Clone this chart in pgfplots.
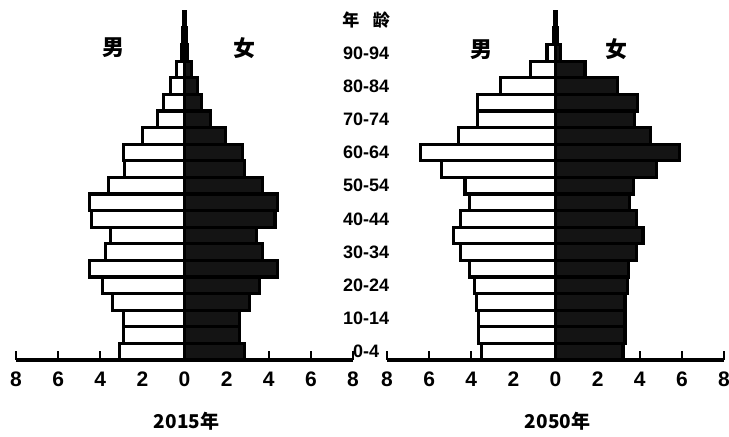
\documentclass[border=0pt]{standalone}
\usepackage{fontspec}
\setmainfont{Liberation Sans}
\newfontfamily\cjk{Noto Sans CJK SC}
\usepackage{pgfplots}
\pgfplotsset{compat=1.18}
\usepackage{pgfplotstable}

% age group index (0 = 0-4 ... 20 = 100+), male %, female %
\pgfplotstableread{
row male female
0  3.10 2.85
1  2.90 2.60
2  2.90 2.60
3  3.40 3.10
4  3.90 3.55
5  4.50 4.40
6  3.75 3.70
7  3.50 3.40
8  4.40 4.30
9  4.50 4.40
10 3.60 3.70
11 2.85 2.85
12 2.90 2.75
13 2.00 1.95
14 1.30 1.25
15 1.00 0.80
16 0.65 0.60
17 0.38 0.35
18 0.16 0.14
19 0.09 0.08
20 0.04 0.03
}\yrfifteen

\pgfplotstableread{
row male female
0  3.50 3.20
1  3.65 3.30
2  3.65 3.30
3  3.75 3.30
4  3.85 3.40
5  4.10 3.45
6  4.50 3.85
7  4.85 4.15
8  4.50 3.85
9  4.10 3.50
10 4.30 3.70
11 5.40 4.80
12 6.40 5.90
13 4.60 4.50
14 3.70 3.75
15 3.70 3.90
16 2.60 2.95
17 1.20 1.40
18 0.40 0.25
19 0.10 0.09
20 0.05 0.04
}\yrfifty

\pgfplotsset{
  pyramid/.style={
    scale only axis, width=168.5pt, height=176pt,
    xmin=-8, xmax=8, ymin=-0.5, ymax=20.7,
    axis lines*=left,
    x axis line style={line width=1.6pt, black},
    y axis line style={draw=none},
    ytick=\empty,
    xtick={-8,-6,...,8},
    xticklabels={8,6,4,2,0,2,4,6,8},
    tick align=inside, major tick length=4.5pt,
    major tick style={line width=1.2pt, black},
    xticklabel style={font=\fontsize{10.5}{12}\selectfont\bfseries, yshift=-2.5pt},
    clip=false,
  },
  male/.style={xbar, bar width=8.3pt, bar shift=0pt, draw=black, fill=white, line width=1.6pt},
  female/.style={xbar, bar width=8.3pt, bar shift=0pt, draw=black, fill=black!92, line width=1.6pt},
}
\tikzset{
  agelab/.style={font=\fontsize{9}{10}\selectfont\bfseries},
  cn/.style={font=\cjk\fontsize{11}{12}\selectfont\bfseries},
  yr/.style={font=\cjk\fontsize{9.5}{11}\selectfont\bfseries},
}

\begin{document}
\begin{tikzpicture}
\begin{axis}[pyramid]
\addplot[male] table[x expr=-\thisrow{male}, y=row] {\yrfifteen};
\addplot[female] table[x=female, y=row] {\yrfifteen};
\node[cn] at (axis cs:-3.35,18.3) {男};
\node[cn] at (axis cs:2.83,18.3) {女};
\node[yr] at (axis cs:0.1,-4.2) {2015年};
\node[font=\cjk\fontsize{8.5}{10}\selectfont\bfseries] at (axis cs:8.62,20.0) {年\hspace{0.8em}龄};
\node[agelab] at (axis cs:8.62,0) {0-4};
\node[agelab] at (axis cs:8.62,2) {10-14};
\node[agelab] at (axis cs:8.62,4) {20-24};
\node[agelab] at (axis cs:8.62,6) {30-34};
\node[agelab] at (axis cs:8.62,8) {40-44};
\node[agelab] at (axis cs:8.62,10) {50-54};
\node[agelab] at (axis cs:8.62,12) {60-64};
\node[agelab] at (axis cs:8.62,14) {70-74};
\node[agelab] at (axis cs:8.62,16) {80-84};
\node[agelab] at (axis cs:8.62,18) {90-94};
\end{axis}
\begin{axis}[pyramid, at={(185.5pt,0)}]
\addplot[male] table[x expr=-\thisrow{male}, y=row] {\yrfifty};
\addplot[female] table[x=female, y=row] {\yrfifty};
\node[cn] at (axis cs:-3.5,18.2) {男};
\node[cn] at (axis cs:2.9,18.2) {女};
\node[yr] at (axis cs:0.1,-4.2) {2050年};
\end{axis}
\pgfresetboundingbox
\path[use as bounding box] (-8pt,-38.5pt) rectangle (356.5pt,180pt);
\end{tikzpicture}
\end{document}
